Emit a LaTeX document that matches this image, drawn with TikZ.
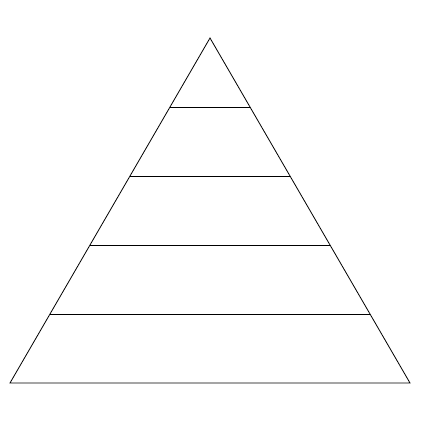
\documentclass[tikz,border=0pt]{standalone}
\usetikzlibrary{calc}
\begin{document}
\begin{tikzpicture}[x=1pt,y=-1pt,line width=0.8pt, tier/.style={draw=black}]
\useasboundingbox (0,0) rectangle (421,422);
\coordinate (apex) at (210,38);
\coordinate (bl) at (10,383);
\coordinate (br) at (410,383);
\draw[tier] (apex) -- (br) -- (bl) -- cycle;
\foreach \i in {1,2,3,4}{
  \draw[tier] ($(apex)!\i/5!(bl)$) -- ($(apex)!\i/5!(br)$);
}
\end{tikzpicture}
\end{document}
